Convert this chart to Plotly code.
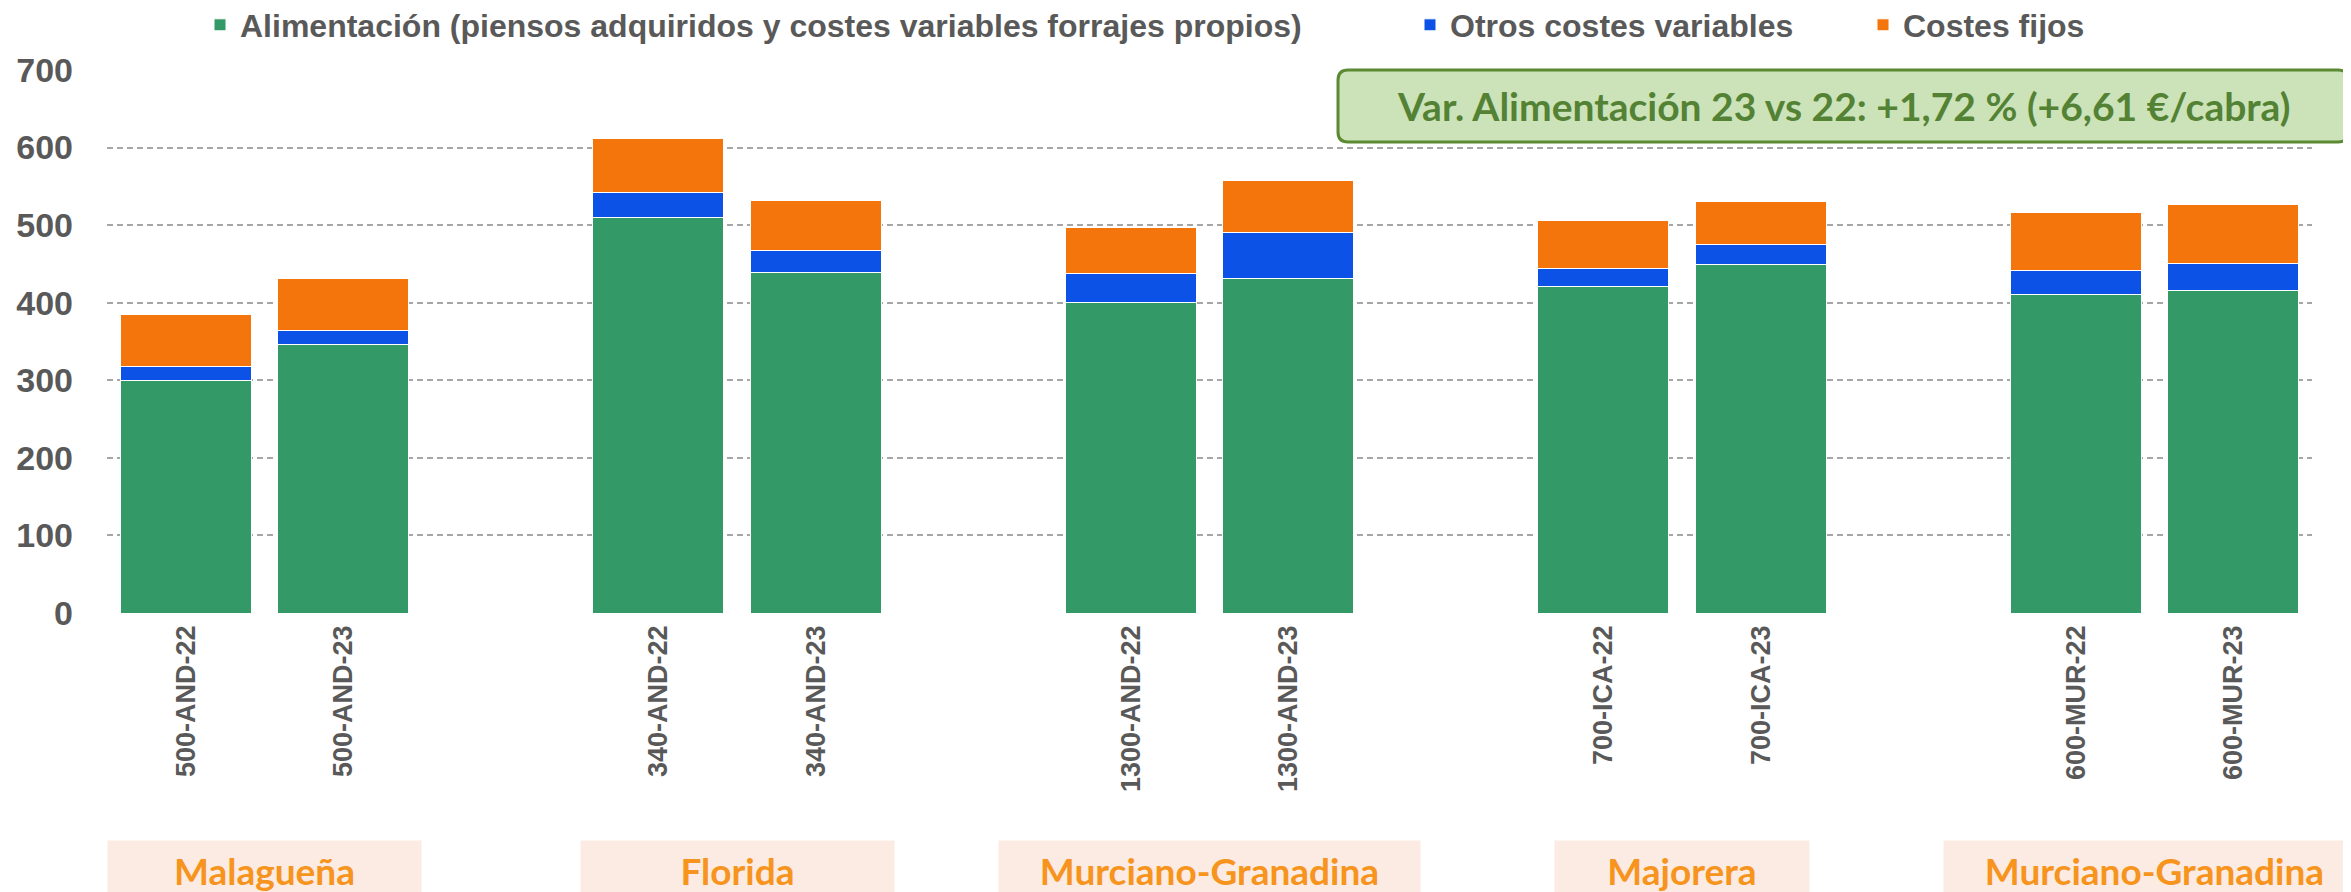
import plotly.graph_objects as go

# categories (blank strings leave a gap between breed groups)
categories = ["500-AND-22", "500-AND-23", " ",
              "340-AND-22", "340-AND-23", "  ",
              "1300-AND-22", "1300-AND-23", "   ",
              "700-ICA-22", "700-ICA-23", "    ",
              "600-MUR-22", "600-MUR-23"]

alimentacion = [300, 346, None, 510.5, 439, None, 400, 431.5, None, 421, 449.5, None, 411, 415.5]
otros_variables = [17.5, 18, None, 31, 28.5, None, 38, 59, None, 23, 25, None, 30.5, 35.5]
costes_fijos = [67, 67, None, 70, 64, None, 59.5, 66.5, None, 61.5, 56.5, None, 74.5, 75]

breeds = ["Malagueña", "Florida", "Murciano-Granadina", "Majorera", "Murciano-Granadina"]
breed_members = [("500-AND-22", "500-AND-23"), ("340-AND-22", "340-AND-23"),
                 ("1300-AND-22", "1300-AND-23"), ("700-ICA-22", "700-ICA-23"),
                 ("600-MUR-22", "600-MUR-23")]

note_text = "Var. Alimentación 23 vs 22: +1,72 % (+6,61 €/cabra)"

# figure geometry (the page body adds an 8px offset)
W, H = 2351, 892
OFF = 8
ML, MR, MT, MB = 99, 47, 62, 287
PW, PH = W - ML - MR, H - MT - MB

GREY = "#595959"
BOLD = "Liberation Sans, Arial, sans-serif"
HUMAN = "Lato, Open Sans, sans-serif"


def px_x(px):
    # page pixel -> paper x
    return (px - OFF - ML) / PW


def px_y(py):
    # page pixel -> paper y
    return (H - MB - (py - OFF)) / PH


fig = go.Figure()
series = [
    ("Alimentación (piensos adquiridos y costes variables forrajes propios)", alimentacion, "#339966", "legend"),
    ("Otros costes variables", otros_variables, "#0D52E6", "legend2"),
    ("Costes fijos", costes_fijos, "#F4750C", "legend3"),
]
for name, vals, color, leg in series:
    fig.add_trace(go.Bar(
        name=name, x=categories, y=vals, width=0.83,
        marker=dict(color=color, line=dict(color="white", width=1)),
        legend=leg,
    ))

legend_font = dict(family=BOLD, size=32, color=GREY, weight="bold")
legend_common = dict(orientation="h", yanchor="middle", y=px_y(25), xanchor="left",
                     font=legend_font, bgcolor="rgba(0,0,0,0)", itemclick=False)

# rounded note box
bx0, bx1, by0, by1, r = 1338, 2348, 70, 142, 10
rx, ry = r / PW, r / PH
x0, x1, y0, y1 = px_x(bx0), px_x(bx1), px_y(by1), px_y(by0)
path = (f"M{x0 + rx},{y1} L{x1 - rx},{y1} Q{x1},{y1} {x1},{y1 - ry} "
        f"L{x1},{y0 + ry} Q{x1},{y0} {x1 - rx},{y0} L{x0 + rx},{y0} "
        f"Q{x0},{y0} {x0},{y0 + ry} L{x0},{y1 - ry} Q{x0},{y1} {x0 + rx},{y1} Z")
fig.add_shape(type="path", path=path, xref="paper", yref="paper",
              fillcolor="#CCE3B9", line=dict(color="#5B8A32", width=3), layer="above")
fig.add_annotation(text=note_text, xref="paper", yref="paper",
                   x=px_x((bx0 + bx1) / 2), y=px_y((by0 + by1) / 2),
                   showarrow=False, xanchor="center", yanchor="middle",
                   font=dict(family=HUMAN, size=39, color="#548235", weight="bold"))

# breed labels under the axis
box_widths = [313, 313, 421, 254, 421]
for breed, members, bw in zip(breeds, breed_members, box_widths):
    center = sum(categories.index(m) for m in members) / len(members)
    fig.add_annotation(text=breed, x=center, xref="x", yref="paper", y=px_y(870),
                       showarrow=False, xanchor="center", yanchor="middle",
                       width=bw, height=58, bgcolor="#FBEBE2", borderpad=0,
                       font=dict(family=HUMAN, size=37, color="#F7941D", weight="bold"))

fig.update_layout(
    barmode="stack",
    width=W, height=H,
    margin=dict(l=ML, r=MR, t=MT, b=MB, autoexpand=False),
    plot_bgcolor="white", paper_bgcolor="white",
    showlegend=True,
    legend=dict(x=px_x(200), **legend_common),
    legend2=dict(x=px_x(1410), **legend_common),
    legend3=dict(x=px_x(1863), **legend_common),
    xaxis=dict(type="category", categoryorder="array", categoryarray=categories,
               range=[-0.5, len(categories) - 0.5],
               tickangle=-90, showgrid=False, showline=False, ticks="",
               tickfont=dict(family=BOLD, size=27, color=GREY, weight="bold"),
               ticklabelstandoff=6),
    yaxis=dict(range=[0, 700], dtick=100, showline=False, zeroline=False,
               showgrid=True, gridcolor="#A6A6A6", gridwidth=2, griddash="6px,4px",
               tickfont=dict(family=BOLD, size=34, color=GREY, weight="bold"),
               ticklabelstandoff=33),
)

fig.write_html("out.html")
